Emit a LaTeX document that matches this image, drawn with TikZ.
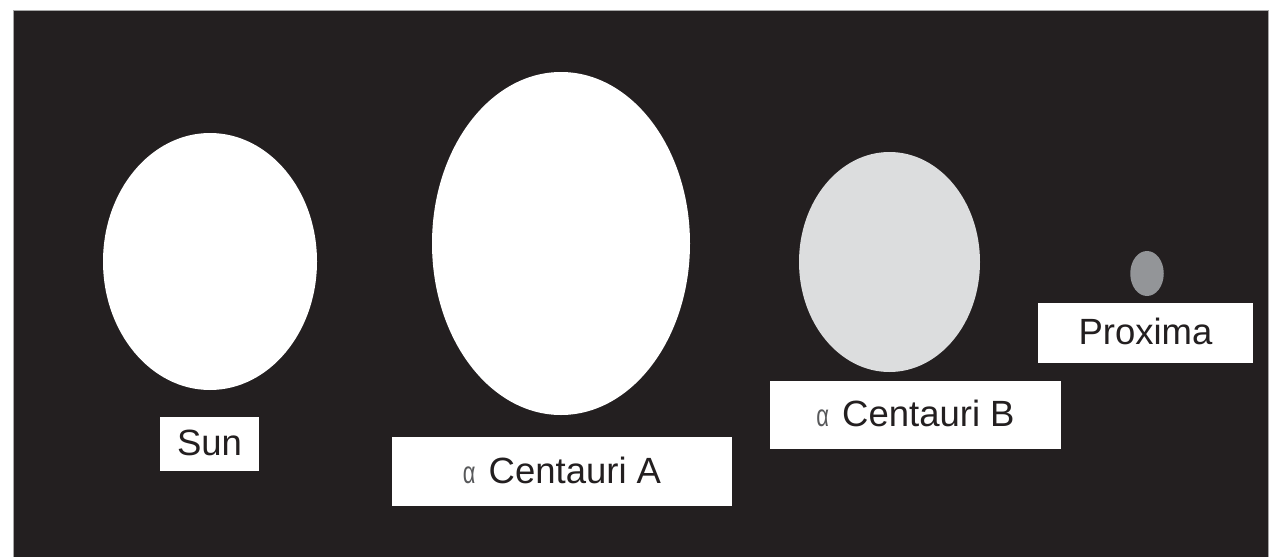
\documentclass[tikz,border=0pt]{standalone}
\usepackage{fontspec}
\setmainfont{Liberation Sans}
\usepackage{graphicx}
\usetikzlibrary{shapes.geometric}
\definecolor{bgdark}{HTML}{231F20}
\definecolor{starB}{HTML}{DCDDDE}
\definecolor{starP}{HTML}{939598}
\definecolor{alphagray}{HTML}{58595B}
\newcommand{\alphaglyph}{{\color{alphagray}\scalebox{0.6}[0.85]{α}}\hspace{3pt}}
\begin{document}
\begin{tikzpicture}[x=1pt,y=-1pt,
  star/.style={ellipse, draw=none, inner sep=0pt},
  labelbox/.style={fill=white, draw=none, inner sep=0pt, text=bgdark,
    font=\fontsize{36.5}{40}\selectfont, text height=26.3pt, text depth=3pt}]
\useasboundingbox (0,0) rectangle (1270,557);
\fill[white] (0,0) rectangle (1270,557);
\fill[bgdark] (13,10) rectangle (1269,557);
\draw[gray!70, line width=0.6pt] (13,557) -- (13,10) -- (1268.5,10) -- (1268.5,557);
% stars
\node[star, fill=white, minimum width=214pt, minimum height=257pt] (sun) at (210,261.5) {};
\node[star, fill=white, minimum width=258pt, minimum height=343pt] (cenA) at (561,243.5) {};
\node[star, fill=starB, minimum width=181pt, minimum height=220pt] (cenB) at (889.5,262) {};
\node[star, fill=starP, minimum width=33.5pt, minimum height=45pt] (prox) at (1147,273.5) {};
% labels
\node[labelbox, minimum width=99pt, minimum height=54pt] (sunlbl) at (209.5,444) {Sun};
\node[labelbox, minimum width=340pt, minimum height=69pt] (cenAlbl) at (562,471.5) {\alphaglyph\ Centauri A};
\node[labelbox, minimum width=291pt, minimum height=68pt] (cenBlbl) at (915.5,415) {\alphaglyph\ Centauri B};
\node[labelbox, minimum width=215pt, minimum height=60pt] (proxlbl) at (1145.5,333) {Proxima};
\end{tikzpicture}
\end{document}
